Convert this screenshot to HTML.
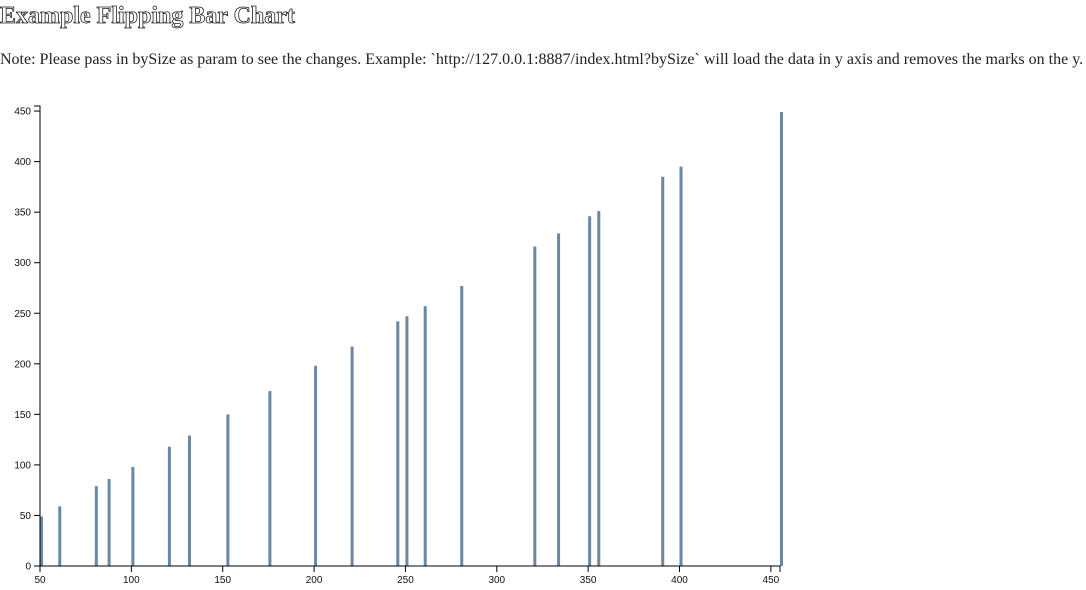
<!DOCTYPE html>
<html><head><meta charset="utf-8"><style>
body{margin:0;background:#fff;width:1086px;height:590px;overflow:hidden;font-family:"Liberation Serif",serif;}
h1{position:absolute;left:0;top:3px;margin:0;font-size:24px;font-weight:bold;color:#fff;-webkit-text-stroke:0.8px #222;white-space:nowrap;}
p{position:absolute;left:0;top:51px;margin:0;font-size:16px;color:#222;white-space:nowrap;}
svg{position:absolute;left:0;top:0;}
text{font-family:"Liberation Sans",sans-serif;font-size:10px;fill:#111;}
</style></head><body>
<h1>Example Flipping Bar Chart</h1>
<p>Note: Please pass in bySize as param to see the changes. Example: `http://127.0.0.1:8887/index.html?bySize` will load the data in y axis and removes the marks on the y.</p>
<svg id="chart" width="1086" height="590"></svg>
<script>
const xValues=[50,60,80,87,100,120,131,152,175,200,220,245,250,260,280,320,333,350,355,390,400,455];
const yValues=[49,59,79,86,98,118,129,150,173,198,217,242,247,257,277,316,329,346,351,385,395,449];
const xTicks=[50,100,150,200,250,300,350,400,450];
const yTicks=[0,50,100,150,200,250,300,350,400,450];
const NS="http://www.w3.org/2000/svg";
const svg=document.getElementById('chart');
const L=40,R=780,T=106,B=566,xMin=50,xMax=455,yMax=455;
const xs=v=>L+(v-xMin)/(xMax-xMin)*(R-L);
const ys=v=>B-v/yMax*(B-T);
function mk(t,a){const e=document.createElementNS(NS,t);for(const k in a)e.setAttribute(k,a[k]);svg.appendChild(e);return e;}
xValues.forEach((xv,i)=>{
 const r=mk('rect',{x:xs(xv),y:ys(yValues[i]),width:3,height:B-ys(yValues[i]),fill:'#6a87a3'});
 
 
});
const ya=mk('path',{d:`M34,${T}H40V${B}H34`,fill:'none',stroke:'#000'});


yTicks.forEach(v=>{
 mk('line',{x1:34,x2:40,y1:ys(v),y2:ys(v),stroke:'#000'});
 const t=mk('text',{x:31,y:ys(v)+3.5,'text-anchor':'end'});t.textContent=v;
 
 
});
const xa=mk('path',{d:`M${L},572V${B}H${R}V572`,fill:'none',stroke:'#000'});


xTicks.forEach(v=>{
 mk('line',{x1:xs(v),x2:xs(v),y1:B,y2:572,stroke:'#000'});
 const t=mk('text',{x:xs(v),y:583,'text-anchor':'middle'});t.textContent=v;
 
 
});
</script>
</body></html>
